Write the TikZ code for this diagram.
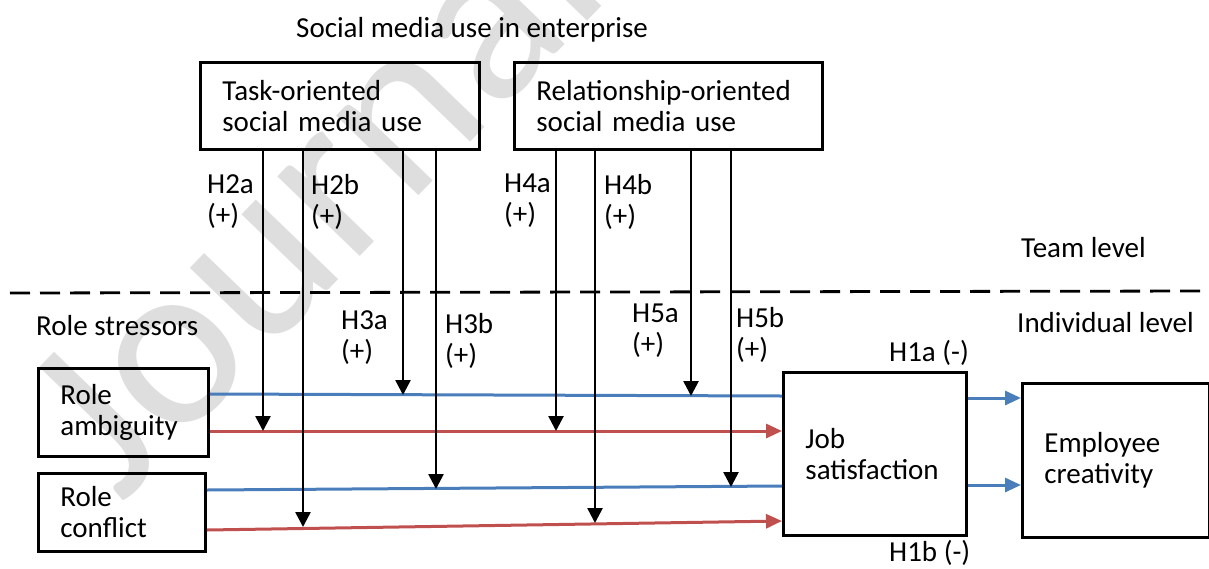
\documentclass[tikz,border=0pt]{standalone}
\usepackage{fontspec}
\setmainfont{Carlito}
\usetikzlibrary{arrows.meta}
\definecolor{linkblue}{HTML}{4A7EBB}
\definecolor{linkred}{HTML}{C0504D}
\definecolor{wmgray}{gray}{0.87}
\tikzset{
  every node/.style={font=\fontsize{29}{31}\selectfont, inner sep=0pt},
  box/.style={draw, line width=2.8pt, anchor=north west, align=left, inner xsep=22pt, inner ysep=0pt},
  lbl/.style={anchor=north west, align=left},
  txt/.style={anchor=base west},
  vline/.style={line width=2.6pt, -{Triangle[length=15pt,width=15pt]}},
  blueline/.style={draw=linkblue, line width=3pt},
  redline/.style={draw=linkred, line width=3pt},
  bluearrow/.style={blueline, -{Triangle[length=16pt,width=14pt]}},
  redarrow/.style={redline, -{Triangle[length=16pt,width=14pt]}},
  level/.style={line width=2.8pt, dash pattern=on 20pt off 10pt},
}
\begin{document}
\begin{tikzpicture}[x=1pt, y=-1pt]
\useasboundingbox (0,0) rectangle (1209,568);

% watermark
\node[rotate=46, font=\fontsize{240}{240}\selectfont, text=wmgray] (wm) at (308,192) {Journal};

% level separator
\coordinate (sepL) at (10,293);
\coordinate (sepR) at (1209,291);
\draw[level] (sepL) -- (sepR);

% headings
\node[txt] (title) at (296,37) {Social media use in enterprise};
\node[txt] (team) at (1021,257) {Team level};
\node[txt] (indiv) at (1017,332) {Individual level};
\node[txt] (stress) at (36,335) {Role stressors};

% boxes
\node[box, text width=235pt, minimum height=87pt] (task) at (199,61) {Task-oriented\\social media use};
\node[box, text width=264pt, minimum height=87pt] (rel) at (513,61) {Relationship-oriented\\social media use};
\node[box, text width=126pt, minimum height=88pt] (ra) at (37,367) {Role\\ambiguity};
\node[box, text width=123pt, minimum height=78pt] (rc) at (37,472) {Role\\conflict};
\node[box, text width=139pt, minimum height=163pt] (job) at (782,371) {Job\\satisfaction};
\node[box, text width=143pt, minimum height=154pt] (emp) at (1021,382) {Employee\\creativity};

% stressor paths into job satisfaction
\draw[blueline] (ra.east |- 0,394) -- (job.west |- 0,396);
\draw[redarrow] (ra.east |- 0,431) -- (job.west |- 0,431);
\draw[blueline] (rc.east |- 0,490) -- (job.west |- 0,486);
\draw[redarrow] (rc.east |- 0,530) -- (job.west |- 0,521);

% job satisfaction to creativity
\draw[bluearrow] (job.east |- 0,398) -- (emp.west |- 0,398);
\draw[bluearrow] (job.east |- 0,485) -- (emp.west |- 0,485);

% moderation targets on the paths
\coordinate (h2a) at (263,431);
\coordinate (h2b) at (303,527);
\coordinate (h3a) at (403,395);
\coordinate (h3b) at (436,489);
\coordinate (h4a) at (556,431);
\coordinate (h4b) at (595,523);
\coordinate (h5a) at (691,396);
\coordinate (h5b) at (731,487);

\foreach \c in {h2a,h2b,h3a,h3b}
  \draw[vline] (task.south -| \c) -- (\c);
\foreach \c in {h4a,h4b,h5a,h5b}
  \draw[vline] (rel.south -| \c) -- (\c);

% hypothesis labels
\node[lbl] (l2a) at (207,174) {H2a\\(+)};
\node[lbl] (l2b) at (311,174) {H2b\\(+)};
\node[lbl] (l4a) at (504,174) {H4a\\(+)};
\node[lbl] (l4b) at (604,174) {H4b\\(+)};
\node[lbl] (l3a) at (341,310) {H3a\\(+)};
\node[lbl] (l3b) at (445,313) {H3b\\(+)};
\node[lbl] (l5a) at (632,304) {H5a\\(+)};
\node[lbl] (l5b) at (736,307) {H5b\\(+)};
\node[txt] (l1a) at (889,361) {H1a (-)};
\node[txt] (l1b) at (889,561) {H1b (-)};
\end{tikzpicture}
\end{document}
